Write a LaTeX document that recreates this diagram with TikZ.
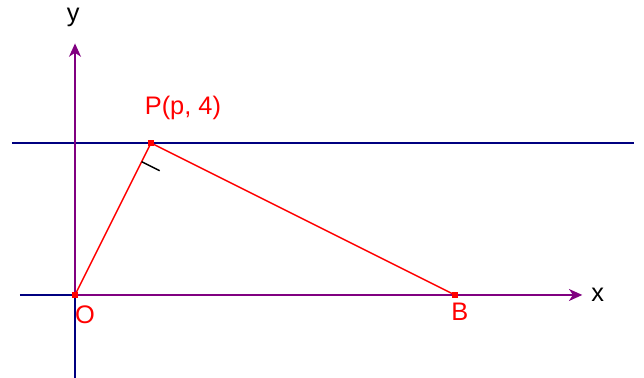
\documentclass[tikz,border=0pt]{standalone}
\usepackage{fontspec}
\setmainfont{Liberation Sans}
\usetikzlibrary{arrows.meta, positioning, calc}
\definecolor{navyline}{RGB}{0,0,128}
\definecolor{purpaxis}{RGB}{128,0,128}

\begin{document}
\begin{tikzpicture}[>={Stealth[length=10pt, width=9pt, inset=3pt]}, line width=1.1pt,
    pt/.style={rectangle, fill=red, minimum size=4.5pt, inner sep=0pt},
    lbl/.style={font=\fontsize{19}{22}\selectfont}]
                \useasboundingbox (-1.974,-2.184) rectangle (14.974,7.763);
                % lines
                \coordinate (xl) at (-1.45,0);
                \coordinate (xr) at (13.2,0);
                \coordinate (yb) at (0,-2.2);
                \coordinate (yt) at (0,6.5);
                \coordinate (hl) at (-1.66,4);
                \coordinate (hr) at (14.71,4);
                \draw[navyline] (xl) -- (xr);
                \draw[navyline] (yb) -- (yt);
                \draw[navyline] (hl) -- (hr);
                % axes
                \coordinate (O) at (0,0);
                \coordinate (xe) at (13.35,0);
                \coordinate (ye) at (0,6.62);
                \draw[->, purpaxis] (O) -- (xe);
                \draw[->, purpaxis] (O) -- (ye);
                \node[lbl, anchor=west] (xlab) at (13.45,0) {x};
                \node[lbl] (ylab) at (-0.05,7.3) {y};
                % triangle
                \node[pt] (o) at (0,0) {};
                \node[pt] (p) at (2,4) {};
                \node[pt] (b) at (10,0) {};
                \draw[red] (o.center) -- (p.center) -- (b.center);
                \coordinate (t) at ($(p.center)!0.55cm!(o.center)$);
                \draw[black] (t) -- ($(t)!0.53cm!-90:(p.center)$);
                \node[lbl, red] (plab) at (2.84,4.92) {P(p, 4)};
                \node[lbl, red] (olab) at (0.26,-0.53) {O};
                \node[lbl, red] (blab) at (10.13,-0.45) {B};
            \end{tikzpicture}
\end{document}
